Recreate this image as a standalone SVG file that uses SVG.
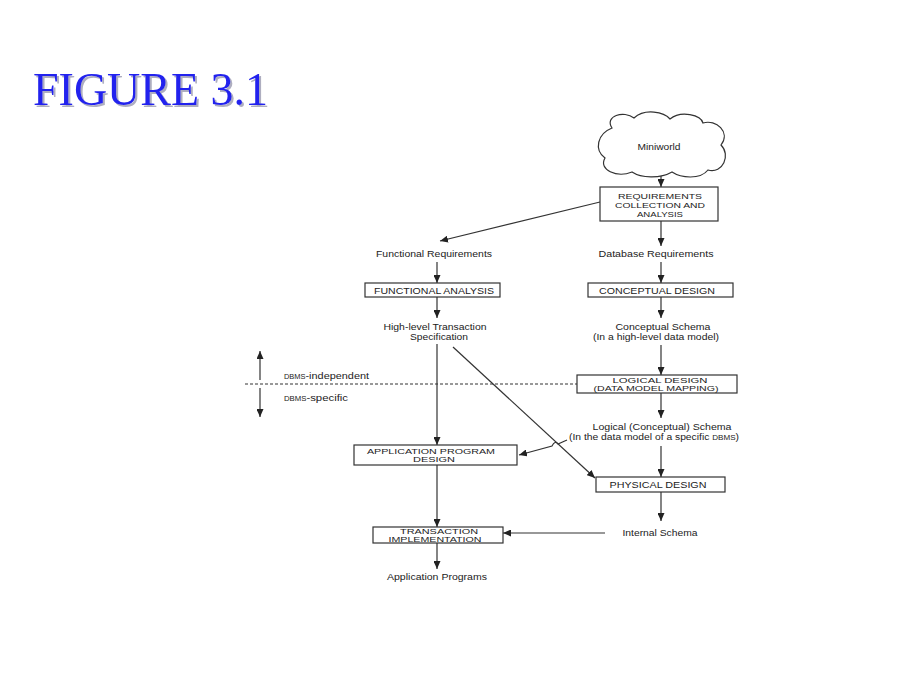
<svg xmlns="http://www.w3.org/2000/svg" width="920" height="690" viewBox="0 0 920 690">
<defs>
<marker id="ah" markerUnits="userSpaceOnUse" markerWidth="8" markerHeight="7" refX="8" refY="3.5" orient="auto">
<path d="M0,0 L8,3.5 L0,7 z" fill="#222"/>
</marker>
<filter id="sh" x="-5%" y="-20%" width="115%" height="150%">
<feDropShadow dx="2" dy="2" stdDeviation="0.6" flood-color="#9a9ab0" flood-opacity="0.8"/>
</filter>
<style>
.box{fill:#fff;stroke:#333;stroke-width:1.2}
.t{font-family:"Liberation Sans",Arial,sans-serif;font-size:9.5px;fill:#222;text-anchor:middle}
.s{font-size:8.3px}
.b{font-family:"Liberation Sans",Arial,sans-serif;font-size:6.9px;fill:#222;text-anchor:middle}
.tl{font-family:"Liberation Sans",Arial,sans-serif;font-size:9.5px;fill:#222}
.sc{font-size:6.5px}
.ca{stroke:#333;stroke-width:1.2;fill:none;marker-end:url(#ah)}
</style>
</defs>
<rect width="920" height="690" fill="#fff"/>
<g id="title">
<text x="33" y="105" font-family="'Liberation Serif','Times New Roman',serif" font-size="46" fill="#2222ee" filter="url(#sh)">FIGURE 3.1</text>
</g>
<g id="connectors">
<line class="ca" x1="661" y1="172" x2="661" y2="187"/>
<line class="ca" x1="600" y1="202" x2="440" y2="241"/>
<line class="ca" x1="661" y1="221" x2="661" y2="246"/>
<line class="ca" x1="437" y1="262" x2="437" y2="283"/>
<line class="ca" x1="437" y1="297" x2="437" y2="318"/>
<line class="ca" x1="661" y1="262" x2="661" y2="283"/>
<line class="ca" x1="661" y1="297" x2="661" y2="318"/>
<line class="ca" x1="661" y1="345" x2="661" y2="375"/>
<line class="ca" x1="661" y1="393" x2="661" y2="418"/>
<line class="ca" x1="661" y1="446" x2="661" y2="477"/>
<line class="ca" x1="661" y1="492" x2="661" y2="521"/>
<line class="ca" x1="437" y1="344" x2="437" y2="445"/>
<line class="ca" x1="437" y1="465" x2="437" y2="527"/>
<line class="ca" x1="437" y1="543" x2="437" y2="569"/>
<line class="ca" x1="605" y1="533" x2="503" y2="533"/>
<line class="ca" x1="453" y1="347" x2="595" y2="478"/>
<path class="ca" d="M567,440 L558,444 Q555,440 552,446 L519,455"/>
<line x1="245" y1="384" x2="577" y2="384" stroke="#333" stroke-width="1" stroke-dasharray="3,2"/>
<line class="ca" x1="260" y1="380" x2="260" y2="351"/>
<line class="ca" x1="260" y1="388" x2="260" y2="417"/>
</g>
<g id="miniworld">
<path class="box" d="M612,128 C604,116 624,110 634,118 C645,108 664,112 670,119 C681,110 701,115 703,123 C716,119 731,132 721,145 C731,155 723,174 708,170 C700,180 681,178 672,172 C660,179 641,178 632,172 C617,178 598,170 605,158 C594,150 597,134 612,128 Z"/>
<text class="t" x="659" y="150" textLength="43" lengthAdjust="spacingAndGlyphs">Miniworld</text>
</g>
<g id="requirements">
<rect class="box" x="600" y="187" width="118" height="34"/>
<text class="b" x="660" y="199" textLength="84" lengthAdjust="spacingAndGlyphs">REQUIREMENTS</text>
<text class="b" x="660" y="208" textLength="90" lengthAdjust="spacingAndGlyphs">COLLECTION AND</text>
<text class="b" x="660" y="217" textLength="46" lengthAdjust="spacingAndGlyphs">ANALYSIS</text>
</g>
<g id="functional-requirements"><text class="t" x="434" y="257" textLength="116" lengthAdjust="spacingAndGlyphs">Functional Requirements</text></g>
<g id="database-requirements"><text class="t" x="656" y="257" textLength="115" lengthAdjust="spacingAndGlyphs">Database Requirements</text></g>
<g id="functional-analysis">
<rect class="box" x="365" y="283" width="135" height="14"/>
<text class="t" x="434" y="294" textLength="120" lengthAdjust="spacingAndGlyphs">FUNCTIONAL ANALYSIS</text>
</g>
<g id="conceptual-design">
<rect class="box" x="588" y="283" width="145" height="14"/>
<text class="t" x="657" y="294" textLength="116" lengthAdjust="spacingAndGlyphs">CONCEPTUAL DESIGN</text>
</g>
<g id="transaction-spec">
<text class="t" x="435" y="330" textLength="103" lengthAdjust="spacingAndGlyphs">High-level Transaction</text>
<text class="t" x="439" y="340" textLength="58" lengthAdjust="spacingAndGlyphs">Specification</text>
</g>
<g id="conceptual-schema">
<text class="t" x="663" y="330" textLength="95" lengthAdjust="spacingAndGlyphs">Conceptual Schema</text>
<text class="t" x="656" y="340" textLength="126" lengthAdjust="spacingAndGlyphs">(In a high-level data model)</text>
</g>
<g id="logical-design">
<rect class="box" x="577" y="375" width="160" height="18"/>
<text class="b" x="660" y="383" textLength="95" lengthAdjust="spacingAndGlyphs">LOGICAL DESIGN</text>
<text class="b" x="656" y="391" textLength="125" lengthAdjust="spacingAndGlyphs">(DATA MODEL MAPPING)</text>
</g>
<g id="dbms-labels">
<text class="tl" x="284" y="379" textLength="85" lengthAdjust="spacingAndGlyphs"><tspan class="sc">DBMS</tspan>-independent</text>
<text class="tl" x="284" y="401" textLength="64" lengthAdjust="spacingAndGlyphs"><tspan class="sc">DBMS</tspan>-specific</text>
</g>
<g id="logical-schema">
<text class="t s" x="662" y="430" textLength="139" lengthAdjust="spacingAndGlyphs">Logical (Conceptual) Schema</text>
<text class="t s" x="654" y="440" textLength="170" lengthAdjust="spacingAndGlyphs">(In the data model of a specific <tspan class="sc">DBMS</tspan>)</text>
</g>
<g id="physical-design">
<rect class="box" x="596" y="477" width="129" height="15"/>
<text class="t" x="658" y="488" textLength="97" lengthAdjust="spacingAndGlyphs">PHYSICAL DESIGN</text>
</g>
<g id="internal-schema"><text class="t" x="660" y="536" textLength="75" lengthAdjust="spacingAndGlyphs">Internal Schema</text></g>
<g id="application-program-design">
<rect class="box" x="354" y="445" width="163" height="20"/>
<text class="b" x="431" y="454" textLength="128" lengthAdjust="spacingAndGlyphs">APPLICATION PROGRAM</text>
<text class="b" x="434" y="462" textLength="42" lengthAdjust="spacingAndGlyphs">DESIGN</text>
</g>
<g id="transaction-implementation">
<rect class="box" x="373" y="527" width="130" height="16"/>
<text class="b" x="439" y="534" textLength="78" lengthAdjust="spacingAndGlyphs">TRANSACTION</text>
<text class="b" x="435" y="542" textLength="93" lengthAdjust="spacingAndGlyphs">IMPLEMENTATION</text>
</g>
<g id="application-programs"><text class="t" x="437" y="580" textLength="100" lengthAdjust="spacingAndGlyphs">Application Programs</text></g>
</svg>
